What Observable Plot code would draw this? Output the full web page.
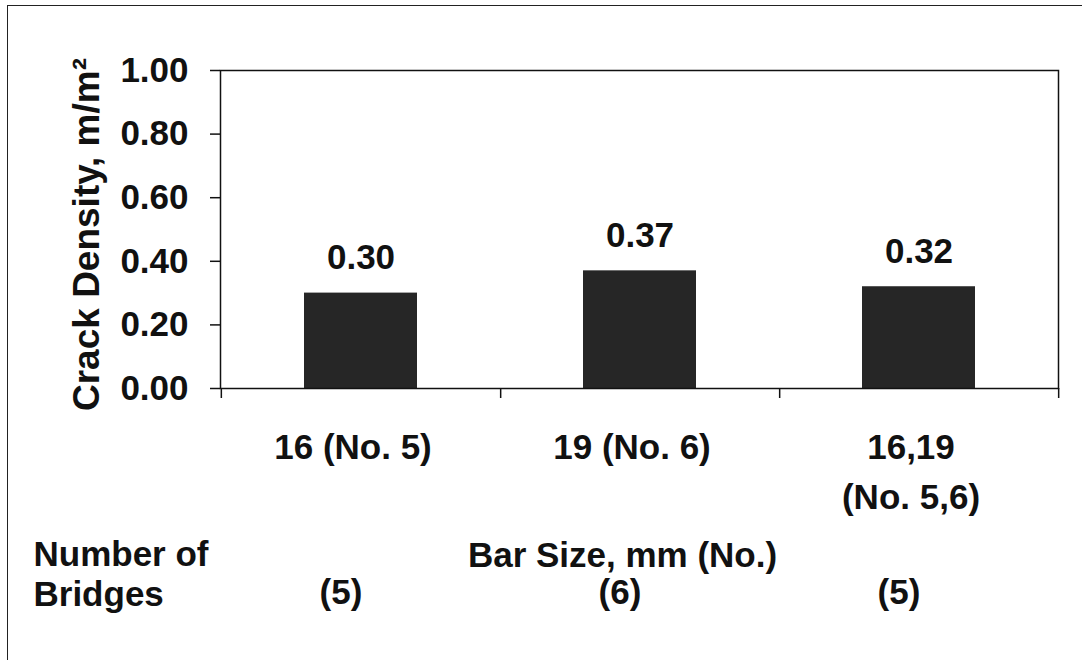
<!DOCTYPE html>
<html><head><meta charset="utf-8">
<script src="https://cdn.jsdelivr.net/npm/d3@7"></script>
<script src="https://cdn.jsdelivr.net/npm/@observablehq/plot@0.6"></script>
<style>
body{margin:0;background:#fff;}
#wrap{position:relative;width:1082px;height:660px;overflow:hidden;}
#border{position:absolute;left:7px;top:5px;right:-5px;bottom:-5px;border-top:1.5px solid #222;border-left:1.5px solid #222;pointer-events:none;}
#wrap svg{position:absolute;left:0;top:0;}
</style></head><body><div id="wrap"><div id="border"></div></div>
<script>
const categories = ["16 (No. 5)", "19 (No. 6)", "16,19\n(No. 5,6)"];
const crackDensity = [0.30, 0.37, 0.32];
const bridgeCounts = ["(5)", "(6)", "(5)"];
const yTicks = [0, 0.2, 0.4, 0.6, 0.8, 1.0];
const yLabel = "Crack Density, m/m²";
const xLabel = "Bar Size, mm (No.)";
const countLabel = "Number of\nBridges";

const data = categories.map((c, i) => ({cat: c, value: crackDensity[i], count: bridgeCounts[i]}));

const W = 1082, H = 660, ml = 220, mr = 24, mt = 70, mb = 272;
const step = (W - ml - mr) / categories.length;
const font = "'Liberation Sans', Arial, Helvetica, sans-serif";
const fs = 35;
const fmt = d3.format(".2f");

const chart = Plot.plot({
  width: W, height: H,
  marginLeft: ml, marginRight: mr, marginTop: mt, marginBottom: mb,
  style: {fontFamily: font, fontSize: fs + "px", fontWeight: "bold", color: "#111", background: "transparent"},
  x: {domain: categories, paddingInner: 0.595, paddingOuter: 0.2975},
  y: {domain: [0, 1]},
  marks: [
    Plot.barY(data, {x: "cat", y: "value", fill: "#262626"}),
    Plot.frame({stroke: "#111", strokeWidth: 1.5}),
    Plot.axisY({ticks: yTicks, tickFormat: fmt, tickSize: 10, tickPadding: 22, label: null, fontSize: fs, fontWeight: "bold", strokeWidth: 1.5}),
    Plot.axisX({ticks: categories, tickSize: 10, dx: step / 2, tickFormat: () => "", label: null, strokeWidth: 1.5}),
    Plot.axisX({ticks: [categories[0]], tickSize: 10, dx: -step / 2, tickFormat: () => "", label: null, strokeWidth: 1.5}),
    Plot.text(data, {x: "cat", y: "value", text: d => fmt(d.value), dy: -24, lineAnchor: "bottom", fontSize: fs, fontWeight: "bold"}),
    Plot.text(data, {x: "cat", text: "cat", frameAnchor: "bottom", lineAnchor: "top", dy: 35, dx: -8, lineHeight: 1.43, fontSize: fs, fontWeight: "bold"}),
    Plot.text(data, {x: "cat", text: "count", frameAnchor: "bottom", lineAnchor: "top", dy: 191, dx: -20, fontSize: fs, fontWeight: "bold"}),
    Plot.text([countLabel], {text: d => d, frameAnchor: "bottom-left", textAnchor: "start", lineAnchor: "top", dx: -187, dy: 149, lineHeight: 1.14, fontSize: fs, fontWeight: "bold"}),
    Plot.text([xLabel], {text: d => d, frameAnchor: "bottom", lineAnchor: "top", dx: -17, dy: 154, fontSize: fs, fontWeight: "bold"}),
    Plot.text([yLabel], {text: d => d, frameAnchor: "left", textAnchor: "middle", rotate: -90, lineAnchor: "bottom", dx: -122, dy: 5, fontSize: 37, fontWeight: "bold"})
  ]
});
document.getElementById("wrap").appendChild(chart);
</script>
</body></html>
